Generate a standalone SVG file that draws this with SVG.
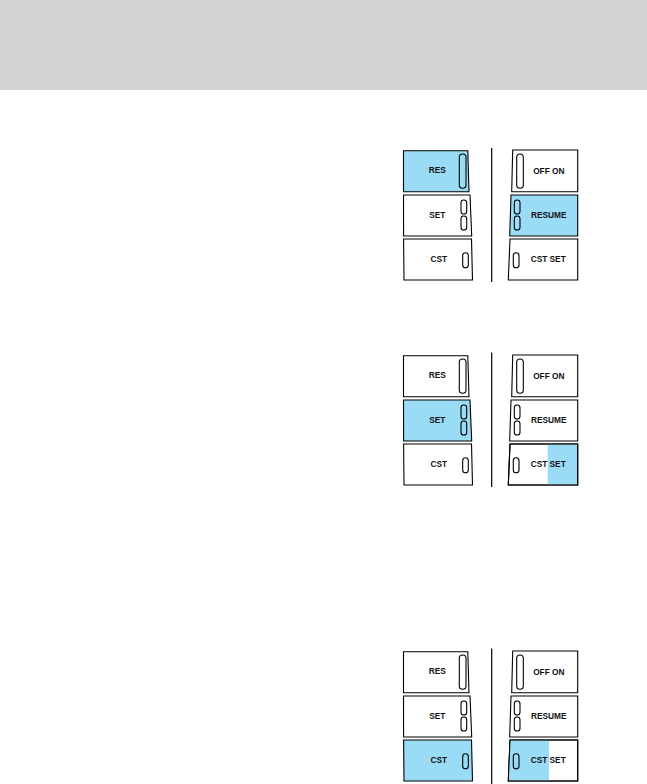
<svg xmlns="http://www.w3.org/2000/svg" width="647" height="784" viewBox="0 0 647 784">
<style>
.box{fill:#ffffff;stroke:#000;stroke-width:1.1}
.on{fill:#9adcf6}
.hl{fill:#9adcf6;stroke:none}
.cap{fill:none;stroke:#000;stroke-width:1.1}
.lbl{font-family:"Liberation Sans",Arial,sans-serif;font-weight:bold;font-size:8.3px;fill:#111;text-anchor:middle}
.div{stroke:#000;stroke-width:1.2}
</style>
<defs>
<polygon id="pRES" points="403.5,150.7 467.8,150.7 469,191.7 403.5,191.7"/>
<polygon id="pSET" points="403.5,195 470,195 471.7,236 403.6,236"/>
<polygon id="pCST" points="403.6,239 471.5,239 472.5,280 404,280"/>
<polygon id="pOFF" points="512.7,150 577.7,150 577.7,191.7 511.7,191.7"/>
<polygon id="pRSM" points="511,195 577.7,195 577.7,236 509.7,236"/>
<polygon id="pCSS" points="510,239 577.7,239 577.7,280 508.3,280"/>
</defs>
<rect x="0" y="0" width="647" height="90" fill="#d2d2d2"/>

<g id="connectors">
<line class="div" x1="491.7" y1="148" x2="491.7" y2="282"/>
<line class="div" x1="491.7" y1="352.5" x2="491.7" y2="487"/>
<line class="div" x1="491.7" y1="648.5" x2="491.7" y2="784"/>
</g>

<!-- Panel 1 -->
<g id="panel1">
<g id="p1-res"><use href="#pRES" class="box on"/><rect class="cap" x="459.3" y="154" width="6.7" height="34.3" rx="3.3"/><text class="lbl" x="437.3" y="173.3">RES</text></g>
<g id="p1-set"><use href="#pSET" class="box"/><rect class="cap" x="461" y="200" width="5.7" height="14" rx="2.8"/><rect class="cap" x="461" y="216" width="5.7" height="14" rx="2.8"/><text class="lbl" x="437.3" y="218.3">SET</text></g>
<g id="p1-cst"><use href="#pCST" class="box"/><rect class="cap" x="462.7" y="252.7" width="5.6" height="15" rx="2.8"/><text class="lbl" x="438.8" y="261.7">CST</text></g>
<g id="p1-offon"><use href="#pOFF" class="box"/><rect class="cap" x="516.7" y="154" width="6.6" height="34.3" rx="3.3"/><text class="lbl" x="548.8" y="174">OFF ON</text></g>
<g id="p1-resume"><use href="#pRSM" class="box on"/><rect class="cap" x="514.3" y="200" width="5.7" height="14" rx="2.8"/><rect class="cap" x="514.3" y="216" width="5.7" height="14" rx="2.8"/><text class="lbl" x="548.7" y="218.3">RESUME</text></g>
<g id="p1-cstset"><use href="#pCSS" class="box"/><rect class="cap" x="513.3" y="252.7" width="5.7" height="15" rx="2.8"/><text class="lbl" x="548.2" y="261.7">CST SET</text></g>
</g>

<!-- Panel 2 -->
<g id="panel2" transform="translate(0,205)">
<g id="p2-res"><use href="#pRES" class="box"/><rect class="cap" x="459.3" y="154" width="6.7" height="34.3" rx="3.3"/><text class="lbl" x="437.3" y="173.3">RES</text></g>
<g id="p2-set"><use href="#pSET" class="box on"/><rect class="cap" x="461" y="200" width="5.7" height="14" rx="2.8"/><rect class="cap" x="461" y="216" width="5.7" height="14" rx="2.8"/><text class="lbl" x="437.3" y="218.3">SET</text></g>
<g id="p2-cst"><use href="#pCST" class="box"/><rect class="cap" x="462.7" y="252.7" width="5.6" height="15" rx="2.8"/><text class="lbl" x="438.8" y="261.7">CST</text></g>
<g id="p2-offon"><use href="#pOFF" class="box"/><rect class="cap" x="516.7" y="154" width="6.6" height="34.3" rx="3.3"/><text class="lbl" x="548.8" y="174">OFF ON</text></g>
<g id="p2-resume"><use href="#pRSM" class="box"/><rect class="cap" x="514.3" y="200" width="5.7" height="14" rx="2.8"/><rect class="cap" x="514.3" y="216" width="5.7" height="14" rx="2.8"/><text class="lbl" x="548.7" y="218.3">RESUME</text></g>
<g id="p2-cstset"><use href="#pCSS" class="box"/><rect class="hl" x="547.7" y="239.5" width="29.6" height="40"/><use href="#pCSS" fill="none" stroke="#000" stroke-width="1.1"/><rect class="cap" x="513.3" y="252.7" width="5.7" height="15" rx="2.8"/><text class="lbl" x="548.2" y="261.7">CST SET</text></g>
</g>

<!-- Panel 3 -->
<g id="panel3" transform="translate(0,501)">
<g id="p3-res"><use href="#pRES" class="box"/><rect class="cap" x="459.3" y="154" width="6.7" height="34.3" rx="3.3"/><text class="lbl" x="437.3" y="173.3">RES</text></g>
<g id="p3-set"><use href="#pSET" class="box"/><rect class="cap" x="461" y="200" width="5.7" height="14" rx="2.8"/><rect class="cap" x="461" y="216" width="5.7" height="14" rx="2.8"/><text class="lbl" x="437.3" y="218.3">SET</text></g>
<g id="p3-cst"><use href="#pCST" class="box on"/><rect class="cap" x="462.7" y="252.7" width="5.6" height="15" rx="2.8"/><text class="lbl" x="438.8" y="261.7">CST</text></g>
<g id="p3-offon"><use href="#pOFF" class="box"/><rect class="cap" x="516.7" y="154" width="6.6" height="34.3" rx="3.3"/><text class="lbl" x="548.8" y="174">OFF ON</text></g>
<g id="p3-resume"><use href="#pRSM" class="box"/><rect class="cap" x="514.3" y="200" width="5.7" height="14" rx="2.8"/><rect class="cap" x="514.3" y="216" width="5.7" height="14" rx="2.8"/><text class="lbl" x="548.7" y="218.3">RESUME</text></g>
<g id="p3-cstset"><use href="#pCSS" class="box"/><polygon class="hl" points="510,239.5 549,239.5 549,279.5 508.3,279.5"/><use href="#pCSS" fill="none" stroke="#000" stroke-width="1.1"/><rect class="cap" x="513.3" y="252.7" width="5.7" height="15" rx="2.8"/><text class="lbl" x="548.2" y="261.7">CST SET</text></g>
</g>
</svg>
